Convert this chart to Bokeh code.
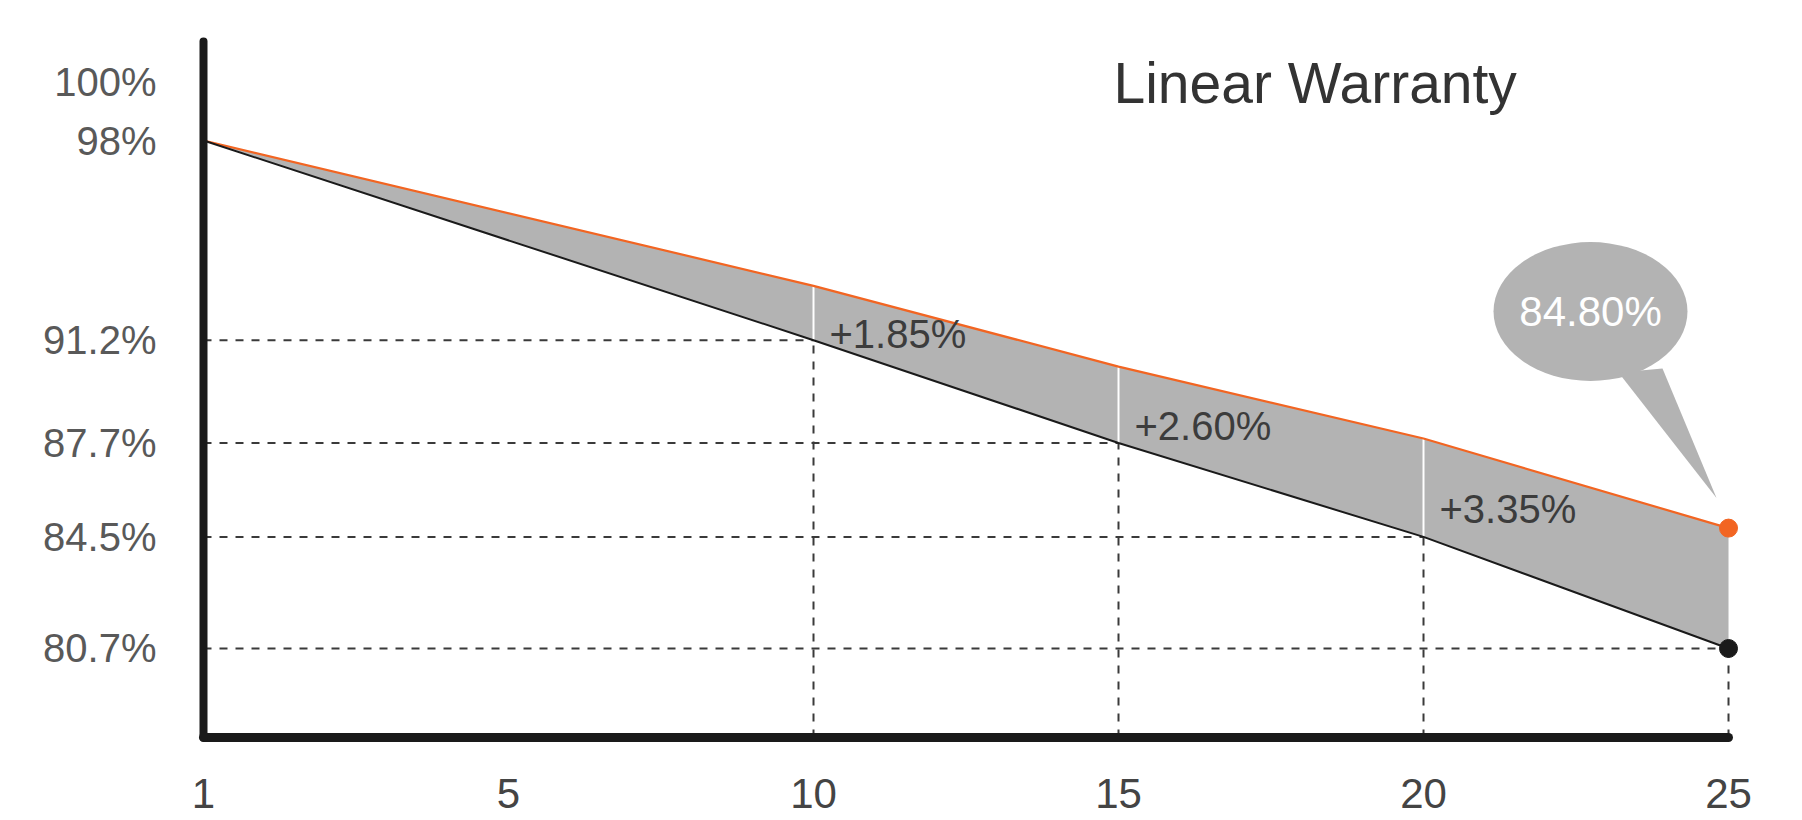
from bokeh.plotting import figure
from bokeh.models import FixedTicker, Label, Range1d
from bokeh.embed import file_html
from bokeh.resources import INLINE
from bokeh.core.properties import value

# ---- data -------------------------------------------------------------
years = [0, 10, 15, 20, 25]            # year 1 sits at the origin of the axis
standard = [98.0, 91.2, 87.7, 84.5, 80.7]
warranty = [98.0, 93.05, 90.30, 87.85, 84.80]
gain_labels = ["+1.85%", "+2.60%", "+3.35%"]
x_ticks = [0, 5, 10, 15, 20, 25]
x_tick_labels = ["1", "5", "10", "15", "20", "25"]
y_ticks = [100, 98, 91.2, 87.7, 84.5, 80.7]
y_tick_labels = ["100%", "98%", "91.2%", "87.7%", "84.5%", "80.7%"]
title_text = "Linear Warranty"

# ---- geometry helpers ------------------------------------------------
FONT = "Liberation Sans"
X0, X1 = 0.0, 25.59
Y0, Y1 = 77.669, 102.155
FW, FH = 1561, 719
LEFT, TOP = 203, 18          # page position of the frame
PXX = FW / (X1 - X0)
PXY = FH / (Y1 - Y0)


def dx(px):
    return X0 + (px - LEFT) / PXX


def dy(py):
    return Y1 - (py - TOP) / PXY


ORANGE = "#f26522"
DARK = "#1a1a1a"
GREY = "#b3b3b3"

p = figure(frame_width=FW, frame_height=FH,
           x_range=Range1d(X0, X1), y_range=Range1d(Y0, Y1),
           output_backend="svg", toolbar_location=None,
           min_border_left=LEFT, min_border_right=1802 - LEFT - FW,
           min_border_top=TOP, min_border_bottom=820 - TOP - FH)
p.grid.visible = False
p.outline_line_color = None
p.background_fill_color = "white"
p.border_fill_color = "white"

# x axis
xa = p.xaxis[0]
xa.ticker = FixedTicker(ticks=x_ticks)
xa.major_label_overrides = {t: l for t, l in zip(x_ticks, x_tick_labels)}
xa.major_tick_line_color = None
xa.minor_tick_line_color = None
xa.axis_line_width = 9
xa.axis_line_color = DARK
xa.axis_line_cap = "round"
xa.bounds = (years[0], years[-1])
xa.major_label_text_font = FONT
xa.major_label_text_font_size = "42px"
xa.major_label_text_color = "#444444"
xa.major_label_standoff = 35

# y axis
ya = p.yaxis[0]
ya.ticker = FixedTicker(ticks=y_ticks)
ya.major_label_overrides = {t: l for t, l in zip(y_ticks, y_tick_labels)}
ya.major_tick_line_color = None
ya.minor_tick_line_color = None
ya.axis_line_width = 8
ya.axis_line_color = DARK
ya.axis_line_cap = "round"
ya.bounds = (Y0, dy(41))
ya.major_label_text_font = FONT
ya.major_label_text_font_size = "40px"
ya.major_label_text_color = "#595959"
ya.major_label_standoff = 41

# shaded band between the two lines
p.varea(x=years, y1=standard, y2=warranty, fill_color=GREY, fill_alpha=1)

# dashed guides
p.segment(x0=[years[0]] * 4, y0=standard[1:], x1=years[1:], y1=standard[1:],
          line_color="#3a3a3a", line_width=2, line_dash="8 8")
p.segment(x0=years[1:], y0=[Y0] * 4, x1=years[1:], y1=standard[1:],
          line_color="#3a3a3a", line_width=2, line_dash="8 8")

# white separators inside the band
p.segment(x0=years[1:4], y0=standard[1:4], x1=years[1:4], y1=warranty[1:4],
          line_color="white", line_width=2)

# lines
p.line(years, warranty, line_color=ORANGE, line_width=2.2)
p.line(years, standard, line_color=DARK, line_width=2)

# end points
p.scatter(x=[years[-1]], y=[warranty[-1]], size=18, fill_color=ORANGE, line_color=ORANGE)
p.scatter(x=[years[-1]], y=[standard[-1]], size=18, fill_color=DARK, line_color=DARK)

# gain labels
mid = [(s + w) / 2 for s, w in zip(standard[1:4], warranty[1:4])]
p.text(x=years[1:4], y=mid, text=gain_labels, x_offset=16, y_offset=21,
       text_font=value(FONT), text_font_size="40px", text_color="#3c3c3c",
       text_align="left", text_baseline="middle")

# speech bubble
bx, by = dx(1590), dy(311)
p.ellipse(x=[bx], y=[by], width=194, height=139, width_units="screen",
          height_units="screen", fill_color=GREY, line_color=None)
# tail points towards the orange end point
tip_x = years[-1] - 12 / PXX
tip_y = warranty[-1] + 30 / PXY
p.patch(x=[dx(1618), dx(1662), tip_x], y=[dy(372), dy(368), tip_y],
        fill_color=GREY, line_color=None)
p.text(x=[bx], y=[by], text=[f"{warranty[-1]:.2f}%"], text_font=value(FONT),
       text_font_size="42px", text_color="white", text_align="center",
       text_baseline="middle")

# title
p.add_layout(Label(x=dx(1113), y=dy(82), text=title_text, text_font=FONT,
                   text_font_size="57px", text_color="#333333",
                   text_baseline="middle", text_align="left"))

open("out.html", "w").write(file_html(p, INLINE))
